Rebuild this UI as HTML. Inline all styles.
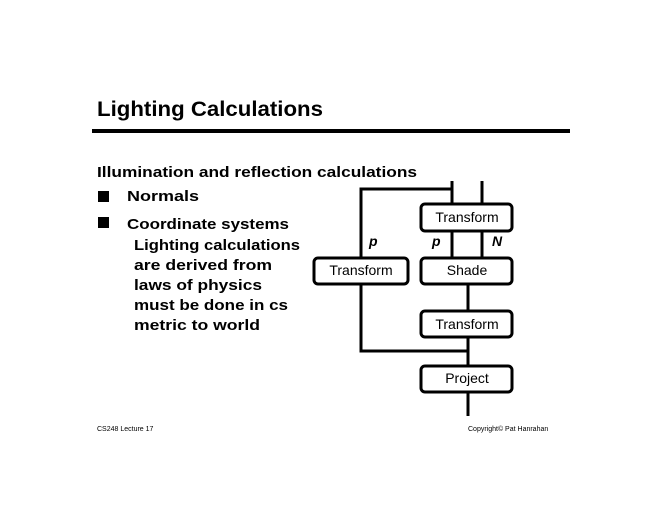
<!DOCTYPE html>
<html><head><style>body{margin:0;background:#fff}svg{display:block}</style></head><body>
<svg width="660" height="510" viewBox="0 0 660 510" xmlns="http://www.w3.org/2000/svg" font-family="Liberation Sans, sans-serif">
<rect width="660" height="510" fill="#fff"/>
<text x="97" y="116" font-size="21" font-weight="bold" textLength="226" lengthAdjust="spacingAndGlyphs">Lighting Calculations</text>
<rect x="92" y="129" width="478" height="4" fill="#000"/>
<g font-size="15" font-weight="bold">
<text x="97" y="177" textLength="320" lengthAdjust="spacingAndGlyphs">Illumination and reflection calculations</text>
<rect x="98" y="191" width="11" height="11"/>
<text x="127" y="201" textLength="72" lengthAdjust="spacingAndGlyphs">Normals</text>
<rect x="98" y="217" width="11" height="11"/>
<text x="127" y="229" textLength="162" lengthAdjust="spacingAndGlyphs">Coordinate systems</text>
<text x="134" y="250" textLength="166" lengthAdjust="spacingAndGlyphs">Lighting calculations</text>
<text x="134" y="270" textLength="138" lengthAdjust="spacingAndGlyphs">are derived from</text>
<text x="134" y="290" textLength="128" lengthAdjust="spacingAndGlyphs">laws of physics</text>
<text x="134" y="310" textLength="154" lengthAdjust="spacingAndGlyphs">must be done in cs</text>
<text x="134" y="330" textLength="126" lengthAdjust="spacingAndGlyphs">metric to world</text>
</g>
<g stroke="#000" stroke-width="3" fill="none">
<polyline points="452,181 452,189 361,189 361,257"/>
<line x1="452" y1="189" x2="452" y2="204"/>
<line x1="482" y1="181" x2="482" y2="204"/>
<line x1="452" y1="231" x2="452" y2="258"/>
<line x1="482" y1="231" x2="482" y2="258"/>
<polyline points="361,284 361,351 468,351"/>
<line x1="468" y1="284" x2="468" y2="416"/>
</g>
<g stroke="#000" stroke-width="3" fill="#fff">
<rect x="421" y="204" width="91" height="27" rx="4"/>
<rect x="314" y="258" width="94" height="26" rx="4"/>
<rect x="421" y="258" width="91" height="26" rx="4"/>
<rect x="421" y="311" width="91" height="26" rx="4"/>
<rect x="421" y="366" width="91" height="26" rx="4"/>
</g>
<g font-size="14" text-anchor="middle">
<text x="467" y="222">Transform</text>
<text x="361" y="275">Transform</text>
<text x="467" y="275">Shade</text>
<text x="467" y="329">Transform</text>
<text x="467" y="383">Project</text>
</g>
<g font-size="14" font-style="italic" font-weight="bold">
<text x="369" y="246">p</text>
<text x="432" y="246">p</text>
<text x="492" y="246">N</text>
</g>
<text x="97" y="431" font-size="7">CS248 Lecture 17</text>
<text x="468" y="431" font-size="7">Copyright© Pat Hanrahan</text>
</svg>
</body></html>
